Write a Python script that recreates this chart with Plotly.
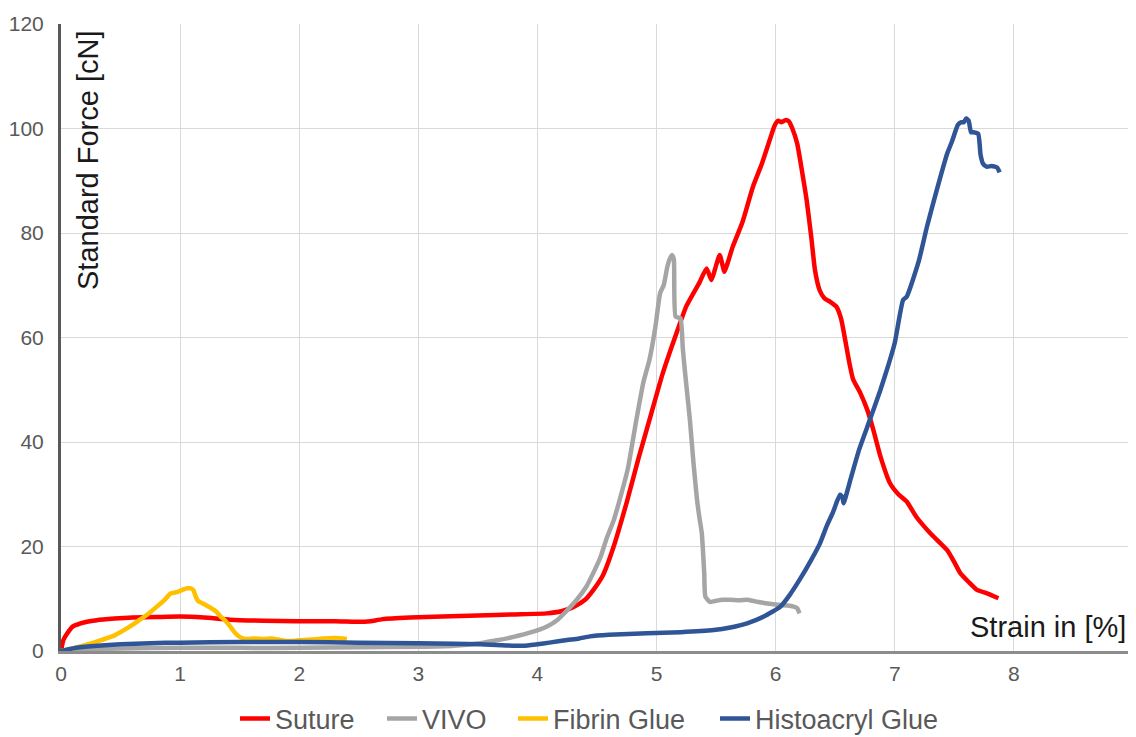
import plotly.graph_objects as go

# ---- data ----
suture_x = [0, 0.02, 0.05, 0.1, 0.2, 0.3, 0.45, 0.6, 0.8, 1.0, 1.2, 1.42, 1.7, 1.98, 2.3, 2.55,
            2.6, 2.7, 2.93, 3.2, 3.5, 3.8, 4.08, 4.2, 4.3, 4.4, 4.47, 4.55, 4.64, 4.75, 4.85,
            4.95, 5.05, 5.17, 5.25, 5.31, 5.36, 5.42, 5.46, 5.49, 5.53, 5.57, 5.6, 5.64, 5.72,
            5.81, 5.88, 5.95, 5.99, 6.02, 6.05, 6.08, 6.11, 6.14, 6.18, 6.22, 6.26, 6.3, 6.33,
            6.37, 6.41, 6.46, 6.51, 6.55, 6.58, 6.62, 6.65, 6.71, 6.77, 6.82, 6.88, 6.96, 7.03,
            7.10, 7.18, 7.3, 7.44, 7.5, 7.55, 7.62, 7.69, 7.78, 7.87]
suture_y = [0, 2.1, 3.3, 4.7, 5.5, 5.9, 6.2, 6.4, 6.5, 6.6, 6.4, 6.0, 5.8, 5.7, 5.7, 5.6,
            5.7, 6.1, 6.4, 6.6, 6.8, 7.0, 7.2, 7.6, 8.4, 9.8, 11.7, 14.5, 20, 28.5, 37,
            45, 53, 61, 66, 68.5, 70.5, 73.2, 71, 73, 75.8, 72.6, 74.5, 77.4, 82,
            88.9, 93, 97.8, 100.5, 101.5, 101.2, 101.6, 101.4, 100, 97.2, 92, 86.3, 79, 72.9,
            69, 67.5, 66.8, 65.9, 63.5, 60, 55, 52, 49.4, 46.1, 42.3, 37.2, 32.1, 30,
            28.6, 25.7, 22.5, 19.3, 17, 14.9, 13.2, 11.7, 11, 10.1]

vivo_x = [0, 0.2, 0.5, 1, 1.5, 2, 2.5, 3, 3.3, 3.52, 3.65, 3.8, 3.95, 4.08, 4.17, 4.25, 4.33,
          4.41, 4.47, 4.53, 4.58, 4.64, 4.69, 4.76, 4.83, 4.89, 4.94, 4.99, 5.03, 5.06, 5.09,
          5.11, 5.13, 5.145, 5.16, 5.20, 5.22, 5.24, 5.28, 5.31, 5.34, 5.36, 5.38, 5.40, 5.41,
          5.45, 5.5, 5.55, 5.62, 5.7, 5.76, 5.83, 5.9, 6.0, 6.1, 6.15, 6.18, 6.2]
vivo_y = [0, 0.3, 0.5, 0.6, 0.6, 0.6, 0.7, 0.8, 1.0, 1.5, 2.0, 2.7, 3.6, 4.7, 6.0, 7.8, 9.8,
          12.3, 15, 18, 21.5, 25, 28.9, 35, 44.2, 51.5, 55.7, 62, 68.5, 70, 73.5,
          75, 75.8, 75, 64, 63.7, 58, 53.1, 44.2, 36, 28.9, 25.5, 22.5, 15, 10.4,
          9.4, 9.6, 9.8, 9.8, 9.7, 9.8, 9.5, 9.2, 8.9, 8.7, 8.5, 8.2, 7.2]

fibrin_x = [0, 0.1, 0.2, 0.3, 0.45, 0.58, 0.65, 0.72, 0.8, 0.87, 0.92, 0.98, 1.03, 1.06, 1.09,
            1.11, 1.13, 1.15, 1.2, 1.26, 1.3, 1.34, 1.38, 1.42, 1.46, 1.5, 1.55, 1.62, 1.7,
            1.77, 1.84, 1.9, 1.98, 2.1, 2.2, 2.3, 2.4]
fibrin_y = [0, 0.5, 1.1, 1.8, 3.0, 4.7, 5.8, 6.9, 8.4, 9.8, 11, 11.3, 11.8, 12, 12,
            11.7, 10.5, 9.6, 9.0, 8.2, 7.6, 6.6, 5.8, 4.7, 3.5, 2.7, 2.3, 2.4, 2.3,
            2.4, 2.1, 1.9, 2.0, 2.2, 2.4, 2.5, 2.3]

histo_x = [0, 0.1, 0.25, 0.5, 0.75, 1, 1.5, 2, 2.5, 3, 3.3, 3.52, 3.7, 3.88, 4.0, 4.1, 4.25,
           4.35, 4.44, 4.6, 4.92, 5.2, 5.48, 5.62, 5.76, 5.9, 6.04, 6.12, 6.2, 6.3, 6.37, 6.43,
           6.48, 6.54, 6.56, 6.57, 6.63, 6.7, 6.79, 6.88, 6.95, 7.0, 7.07, 7.1, 7.2, 7.27, 7.35,
           7.44, 7.48, 7.53, 7.56, 7.58, 7.60, 7.62, 7.64, 7.66, 7.70, 7.72, 7.74, 7.77, 7.81,
           7.84, 7.86, 7.88]
histo_y = [0, 0.5, 0.9, 1.3, 1.5, 1.6, 1.7, 1.7, 1.6, 1.5, 1.4, 1.3, 1.1, 1.0, 1.3, 1.6, 2.1,
           2.4, 2.8, 3.1, 3.4, 3.6, 4.0, 4.5, 5.3, 6.6, 8.5, 10.8, 13.6, 17.5, 20.5, 24,
           26.5, 29.9, 29.5, 28.3, 33, 38.5, 44.2, 50, 55, 59, 67.2, 67.8, 74.5, 81.2, 88,
           95.2, 97.5, 100.7, 101.2, 101.2, 101.9, 101.5, 99.3, 99.3, 99, 95, 93.3, 92.7, 92.8,
           92.7, 92.5, 91.6]

series = [
    ("Suture", suture_x, suture_y, "#FF0000"),
    ("VIVO", vivo_x, vivo_y, "#A5A5A5"),
    ("Fibrin Glue", fibrin_x, fibrin_y, "#FFC000"),
    ("Histoacryl Glue", histo_x, histo_y, "#2F5597"),
]

x_ticks = [0, 1, 2, 3, 4, 5, 6, 7, 8, 9]
y_ticks = [0, 20, 40, 60, 80, 100, 120]

FONT = "Liberation Sans, Arial, sans-serif"

# The page body has an 8px default margin, so the figure is offset by (8, 8).
W, H = 1128, 729
PL, PR, PT, PB = 61 - 8, 1133 - 8, 24 - 8, 651 - 8   # plot-area edges in figure pixels
PW, PH = PR - PL, PB - PT

# legend text start positions (window pixels) as in the reference
legend_text_px = [275, 422, 553, 755]
legend_ids = ["legend", "legend2", "legend3", "legend4"]

fig = go.Figure()
for (name, xs, ys, col), lid in zip(series, legend_ids):
    fig.add_trace(go.Scatter(x=xs, y=ys, name=name, mode="lines", legend=lid,
                             line=dict(color=col, width=4.5, shape="spline", smoothing=0.5)))

legend_y = (PB - (719 - 8)) / PH
legends = {}
for lid, px in zip(legend_ids, legend_text_px):
    legends[lid] = dict(orientation="h", x=(px - 40 - 61) / PW, xanchor="left",
                        y=legend_y, yanchor="middle",
                        font=dict(size=27, color="#595959", family=FONT), itemwidth=30,
                        bgcolor="rgba(0,0,0,0)", borderwidth=0)

fig.update_layout(
    width=W, height=H,
    margin=dict(l=PL, r=W - PR, t=PT, b=H - PB, autoexpand=False),
    paper_bgcolor="white", plot_bgcolor="white",
    font=dict(family=FONT, color="#595959"),
    showlegend=True,
    **legends,
    xaxis=dict(range=[0, 9], tickvals=x_ticks, ticktext=[str(v) for v in x_ticks],
               showgrid=True, gridcolor="#D9D9D9", gridwidth=1,
               showline=True, linecolor="#8C8C8C", linewidth=3,
               zeroline=False, ticks="", tickfont=dict(size=21, color="#595959"),
               ticklabelstandoff=2, fixedrange=True),
    yaxis=dict(range=[0, 120], tickvals=y_ticks, ticktext=[str(v) for v in y_ticks],
               showgrid=True, gridcolor="#D9D9D9", gridwidth=1,
               showline=True, linecolor="#595959", linewidth=3,
               zeroline=False, ticks="", tickfont=dict(size=21, color="#595959"),
               ticklabelstandoff=10, fixedrange=True),
    annotations=[
        dict(text="Standard Force [cN]", xref="paper", yref="paper",
             x=(88 - 61) / PW, y=(651 - 28) / PH, xanchor="center", yanchor="top",
             textangle=-90, showarrow=False, font=dict(size=29, color="#1A1A1A", family=FONT)),
        dict(text="Strain in [%]", xref="paper", yref="paper",
             x=(1128 - 61) / PW, y=(651 - 627) / PH, xanchor="right", yanchor="middle",
             showarrow=False, font=dict(size=29, color="#1A1A1A", family=FONT)),
    ],
)

fig.write_html("out.html")
